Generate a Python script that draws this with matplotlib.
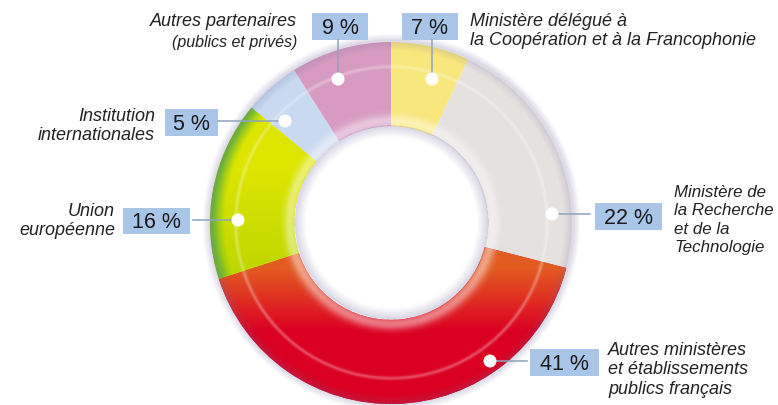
import matplotlib.pyplot as plt
import numpy as np
from matplotlib.patches import Rectangle, Circle

# data: start at top, clockwise
labels = ['Ministère délégué à\nla Coopération et à la Francophonie',
          'Ministère de\nla Recherche\net de la\nTechnologie',
          'Autres ministères\net établissements\npublics français',
          'Union\neuropéenne',
          'Institution\ninternationales',
          'Autres partenaires']
values = [7, 22, 41, 16, 5, 9]
colors = ['#F8E77C', '#E5E1DF', '#DC0022', '#D2E100', '#C8D9F0', '#D79BC1']

W, H = 778, 406
fig = plt.figure(figsize=(W / 100, H / 100), dpi=100)

# donut axes in pixel box, centre (391, 224), radius 181 px
cx, cy, R = 391, 224, 181
lim = 1.1
ax = fig.add_axes([(cx - R * lim) / W, (H - cy - R * lim) / H, 2 * R * lim / W, 2 * R * lim / H])
ax.axis('off')

rin = 0.535
wedges, _ = ax.pie(values, colors=colors, startangle=90, counterclock=False, radius=1,
                   wedgeprops=dict(width=1 - rin, linewidth=0), center=(0, 0), frame=False)
ax.set_xlim(-lim, lim)
ax.set_ylim(-lim, lim)
ax.set_aspect('auto')

n = 600
g = np.linspace(-lim, lim, n)
X, Y = np.meshgrid(g, g)
r = np.sqrt(X ** 2 + Y ** 2)
ext = (-lim, lim, -lim, lim)

# red: orange on top going to deep red
t = np.clip((Y + 0.25) / -0.35, 0, 1)[..., None]
orange = np.array([0.89, 0.36, 0.13])
red = np.array([0.86, 0.0, 0.13])
img = orange * (1 - t) + red * t
im = ax.imshow(img, extent=ext, origin='lower', zorder=2, interpolation='bilinear')
im.set_clip_path(wedges[2])

# green: yellow-green with green outer band
t = np.clip((Y - 0.3) / -0.6, 0, 1)[..., None]
yg = np.array([0.87, 0.90, 0.0]) * (1 - t) + np.array([0.74, 0.84, 0.0]) * t
b = np.clip((r - 0.92) / 0.07, 0, 1)[..., None]
img = yg * (1 - b) + np.array([0.42, 0.74, 0.18]) * b
im = ax.imshow(img, extent=ext, origin='lower', zorder=2, interpolation='bilinear')
im.set_clip_path(wedges[3])

# shading: dark rim and halo
a_dark = np.zeros_like(r)
a_dark += np.where((r > 0.95) & (r <= 1.0), (r - 0.95) / 0.05 * 0.20, 0)
a_dark += np.where((r > 1.0) & (r < 1.045), (1.045 - r) / 0.045 * 0.28, 0)
a_dark += np.where((r > 0.47) & (r <= rin), (r - 0.47) / (rin - 0.47) * 0.28, 0)
dark = np.zeros((n, n, 4))
dark[..., 0], dark[..., 1], dark[..., 2] = 0.45, 0.40, 0.62
dark[..., 3] = a_dark
ax.imshow(dark, extent=ext, origin='lower', zorder=3, interpolation='bilinear')

# glossy highlights
a_white = 0.30 * np.exp(-((r - 0.86) / 0.010) ** 2)
a_white += np.where((r >= rin) & (r < 0.64), 0.45 * np.exp(-((r - 0.56) / 0.035) ** 2), 0)
a_white *= (r >= rin) & (r <= 1.0)
white = np.ones((n, n, 4))
white[..., 3] = a_white
ax.imshow(white, extent=ext, origin='lower', zorder=4, interpolation='bilinear')

# overlay axes in pixel coordinates for labels
ov = fig.add_axes([0, 0, 1, 1])
ov.set_xlim(0, W)
ov.set_ylim(H, 0)
ov.axis('off')

# layout: box (x0, y0, x1, y1), dot, line start
boxes = [(402, 14, 458, 41), (595, 204, 662, 231), (530, 350, 599, 377),
         (123, 209, 190, 235), (165, 110, 218, 137), (312, 14, 368, 41)]
dots = [(432, 80), (552, 215), (490, 362), (238, 221), (285, 122), (338, 80)]
line_ends = [(432, 41), (590, 215), (527, 362), (193, 221), (218, 122), (338, 41)]

fam = ['Liberation Sans', 'DejaVu Sans']
for v, bx, d, le in zip(values, boxes, dots, line_ends):
    x0, y0, x1, y1 = bx
    ov.add_patch(Rectangle((x0, y0), x1 - x0, y1 - y0, fc='#A9C5E8', ec='none', zorder=5))
    ov.text((x0 + x1) / 2, (y0 + y1) / 2 + 1, '%d %%' % v, ha='center', va='center',
            fontsize=15.5, color='#1a1a1a', family=fam, zorder=6)
    ov.plot([le[0], d[0]], [le[1], d[1]], color='#8FA4BE', lw=1.1, zorder=5)
    ov.add_patch(Circle(d, 6.5, fc='white', ec='none', zorder=6))

# category texts
txt = dict(style='italic', color='#222222', family=fam, va='center')
ov.text(470, 31, labels[0], ha='left', fontsize=13, linespacing=1.2, **txt)
ov.text(674, 220, labels[1], ha='left', fontsize=12.2, linespacing=1.3, **txt)
ov.text(608, 370, labels[2], ha='left', fontsize=13, linespacing=1.2, **txt)
ov.text(115, 221, labels[3], ha='right', fontsize=13, linespacing=1.2, **txt)
ov.text(155, 126, labels[4], ha='right', fontsize=13, linespacing=1.2, **txt)
ov.text(297, 21, labels[5], ha='right', fontsize=13, linespacing=1.2, **txt)
ov.text(297, 43, '(publics et privés)', ha='right', fontsize=11.5, style='italic',
        color='#222222', family=fam, va='center')

plt.savefig('out.png', dpi=100)
